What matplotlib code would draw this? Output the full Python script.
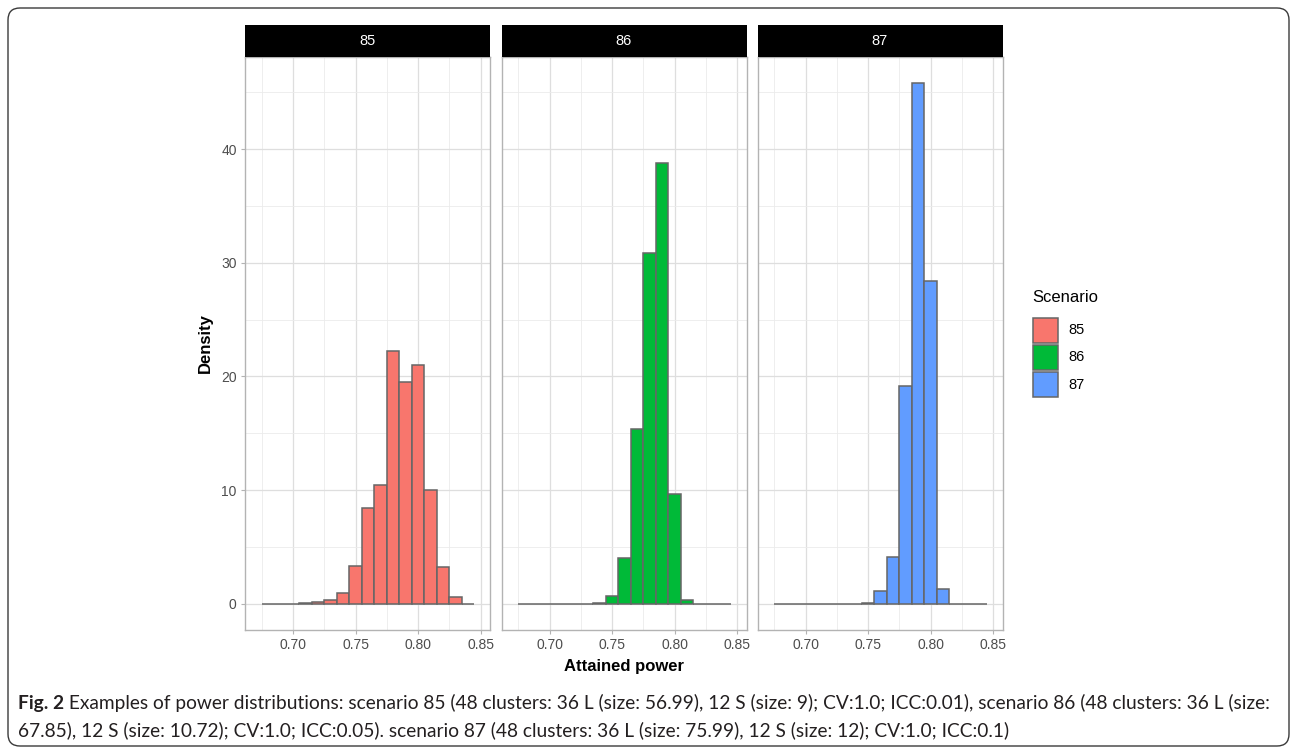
import numpy as np
import matplotlib.pyplot as plt
from matplotlib.patches import FancyBboxPatch, Rectangle
from matplotlib.transforms import IdentityTransform
from matplotlib.ticker import MultipleLocator

# data (density per 0.01-wide bin)
scenarios = ["85", "86", "87"]
colors = ["#F8766D", "#00BA38", "#619CFF"]
bin_centers = [0.68, 0.69, 0.70, 0.71, 0.72, 0.73, 0.74, 0.75, 0.76,
               0.77, 0.78, 0.79, 0.80, 0.81, 0.82, 0.83, 0.84]
bin_width = 0.01
density_85 = [0.00, 0.01, 0.03, 0.05, 0.15, 0.35, 1.00, 3.35, 8.40,
              10.50, 22.20, 19.50, 21.05, 10.00, 3.25, 0.60, 0.00]
density_86 = [0.00, 0.00, 0.00, 0.00, 0.00, 0.03, 0.12, 0.70, 4.06,
              15.40, 30.90, 38.80, 9.70, 0.38, 0.02, 0.00, 0.00]
density_87 = [0.00, 0.00, 0.00, 0.00, 0.00, 0.00, 0.00, 0.06, 1.17,
              4.09, 19.16, 45.80, 28.40, 1.30, 0.00, 0.00, 0.00]
x_ticks = [0.70, 0.75, 0.80, 0.85]
x_ticklabels = ["0.70", "0.75", "0.80", "0.85"]
y_ticks = [0, 10, 20, 30, 40]

caption_bold = "Fig. 2"
caption_1 = (" Examples of power distributions: scenario 85 (48 clusters: 36 L (size: 56.99), "
             "12 S (size: 9); CV:1.0; ICC:0.01), scenario 86 (48 clusters: 36 L (size:")
caption_2 = ("67.85), 12 S (size: 10.72); CV:1.0; ICC:0.05). scenario 87 (48 clusters: 36 L "
             "(size: 75.99), 12 S (size: 12); CV:1.0; ICC:0.1)")

plt.rcParams['font.family'] = ['Liberation Sans', 'DejaVu Sans']

W, H = 1292, 749
fig = plt.figure(figsize=(W / 100, H / 100), dpi=100)
fig.patch.set_facecolor("white")


def px(x0, y0, w, h):
    # pixel box (top-left origin) -> figure fraction rect
    return [x0 / W, 1 - (y0 + h) / H, w / W, h / H]


panel_left = [245, 501.5, 757.5]
panel_w = 245
panel_top, panel_bot = 57, 630
strip_top = 25

all_density = [density_85, density_86, density_87]
for i, (name, col, dens) in enumerate(zip(scenarios, colors, all_density)):
    ax = fig.add_axes(px(panel_left[i], panel_top, panel_w, panel_bot - panel_top))
    ax.bar(bin_centers, dens, width=bin_width, color=col, edgecolor="#666666",
           linewidth=1.1, zorder=3)
    ax.set_xlim(0.6615, 0.8575)
    ax.set_ylim(-2.29, 48.09)
    ax.set_xticks(x_ticks)
    ax.set_xticklabels(x_ticklabels)
    ax.set_yticks(y_ticks)
    ax.xaxis.set_minor_locator(MultipleLocator(0.05, offset=0.025))
    ax.yaxis.set_minor_locator(MultipleLocator(10, offset=5))
    ax.grid(which="major", color="#DEDEDE", linewidth=0.9, zorder=0)
    ax.grid(which="minor", color="#EBEBEB", linewidth=0.6, zorder=0)
    ax.set_axisbelow(True)
    for s in ax.spines.values():
        s.set_color("#B3B3B3")
        s.set_linewidth(1.0)
    ax.tick_params(which="major", length=3, color="#B3B3B3", labelsize=10,
                   labelcolor="#4D4D4D", pad=3)
    ax.tick_params(which="minor", length=0)
    if i > 0:
        ax.tick_params(axis="y", left=False, labelleft=False)

    # facet strip
    sax = fig.add_axes(px(panel_left[i], strip_top, panel_w, panel_top - strip_top))
    sax.set_facecolor("black")
    sax.set_xticks([])
    sax.set_yticks([])
    for s in sax.spines.values():
        s.set_visible(False)
    sax.text(0.5, 0.5, name, color="white", fontsize=10.5, ha="center", va="center",
             transform=sax.transAxes)

# axis titles
fig.text(205 / W, 1 - 343 / H, "Density", rotation=90, fontsize=12, fontweight="bold",
         ha="center", va="center")
fig.text(624 / W, 1 - 667 / H, "Attained power", fontsize=12, fontweight="bold",
         ha="center", va="center")

# legend, drawn by hand to match ggplot's key boxes
fig.text(1032 / W, 1 - 298 / H, "Scenario", fontsize=12, ha="left", va="center")
for i, (name, col) in enumerate(zip(scenarios, colors)):
    y0 = 318 + 27 * i
    key = Rectangle((1033 / W, 1 - (y0 + 25) / H), 25 / W, 25 / H,
                    transform=fig.transFigure, facecolor=col, edgecolor="#666666",
                    linewidth=1.1)
    fig.patches.append(key)
    fig.text(1068 / W, 1 - (y0 + 12.5) / H, name, fontsize=10.5, ha="left", va="center")

# journal frame and caption
frame = FancyBboxPatch((8, 3), 1281, 738, boxstyle="round,pad=0,rounding_size=12",
                       transform=IdentityTransform(), facecolor="none",
                       edgecolor="#3a3a3a", linewidth=1.0)
fig.patches.append(frame)

cap_font = ['Lato', 'DejaVu Sans']
cap_col = "#231F20"
fs = 12.5
t0 = fig.text(18 / W, 1 - 703 / H, caption_bold, fontsize=fs, fontweight="bold",
              family=cap_font, color=cap_col, va="center", ha="left")
fig.canvas.draw()
t1 = fig.text(t0.get_window_extent().x1 / W, 1 - 703 / H, caption_1, fontsize=fs,
              family=cap_font, color=cap_col, va="center", ha="left")
fig.canvas.draw()
# scale caption so first line spans the same width as in the reference
scale = (1275 - 18) / (t1.get_window_extent().x1 - 18)
fs = fs * scale
t0.set_fontsize(fs)
fig.canvas.draw()
t1.set_fontsize(fs)
t1.set_x(t0.get_window_extent().x1 / W)
fig.text(18 / W, 1 - 730 / H, caption_2, fontsize=fs, family=cap_font,
         color=cap_col, va="center", ha="left")

fig.savefig("out.png", dpi=100)
